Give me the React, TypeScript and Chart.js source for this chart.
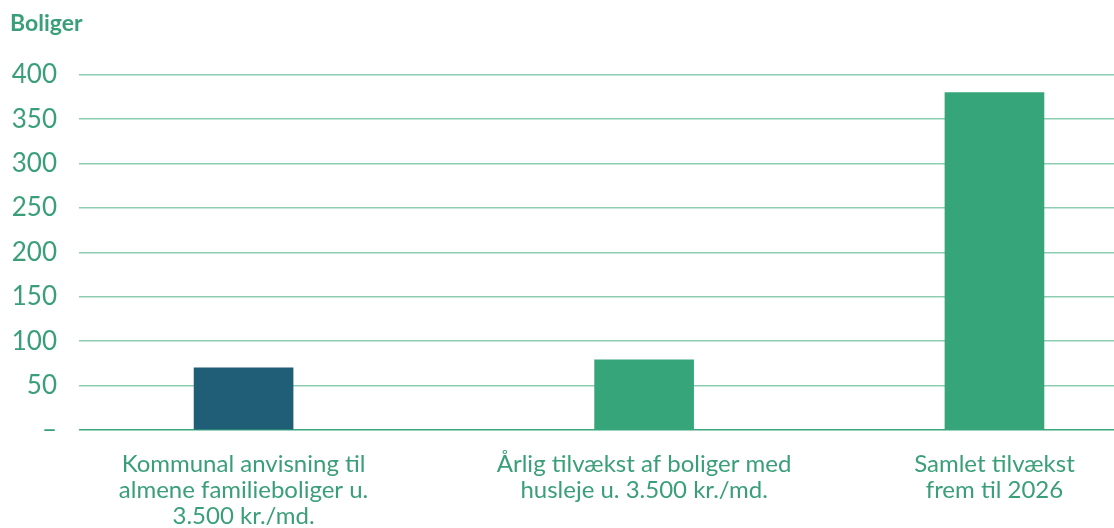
import React, { useEffect, useRef } from "react";
import { Chart, registerables } from "chart.js";

Chart.register(...registerables);

const categories: string[][] = [
  ["Kommunal anvisning til", "almene familieboliger u.", "3.500 kr./md."],
  ["Årlig tilvækst af boliger med", "husleje u. 3.500 kr./md."],
  ["Samlet tilvækst", "frem til 2026"],
];
// position of each bar along the horizontal axis (percent of axis width)
const barPositions: number[] = [15.9, 54.6, 88.45];
const values: number[] = [70, 79, 380];
const barColors: string[] = ["#1F5E76", "#36A57A", "#36A57A"];
const yTicks: number[] = [0, 50, 100, 150, 200, 250, 300, 350, 400];
const title = "Boliger";

const GREEN_TEXT = "#3A9F78";

export default function App() {
  const ref = useRef<HTMLCanvasElement | null>(null);

  useEffect(() => {
    if (!ref.current) return;
    const chart = new Chart(ref.current, {
      type: "bar",
      data: {
        datasets: [
          {
            data: values.map((v, i) => ({ x: barPositions[i], y: v })),
            backgroundColor: barColors,
            borderWidth: 0,
            barThickness: 99,
          },
        ],
      },
      options: {
        animation: false,
        responsive: false,
        layout: { padding: { left: 10, right: 0, top: 0, bottom: 0 } },
        plugins: {
          legend: { display: false },
          tooltip: { enabled: false },
          title: {
            display: true,
            text: title,
            align: "start",
            color: GREEN_TEXT,
            font: { family: "Lato", size: 23, weight: "bold", lineHeight: 1.2 },
            padding: { top: 10.2, bottom: 36.9 },
          },
        },
        scales: {
          x: {
            type: "linear",
            min: 0,
            max: 100,
            offset: false,
            grid: { display: false, drawTicks: false },
            border: { display: false },
            afterBuildTicks: (scale: any) => {
              scale.ticks = barPositions.map((v) => ({ value: v }));
            },
            afterFit: (scale: any) => {
              scale.height = 98;
            },
            ticks: {
              autoSkip: false,
              maxRotation: 0,
              minRotation: 0,
              padding: 21.5,
              color: GREEN_TEXT,
              font: { family: "Lato", size: 24, lineHeight: "26px" },
              callback: (_v: any, i: number) => categories[i],
            },
          },
          y: {
            min: 0,
            max: 400,
            afterBuildTicks: (scale: any) => {
              scale.ticks = yTicks.map((v) => ({ value: v }));
            },
            afterFit: (scale: any) => {
              scale.width = 69;
            },
            border: { display: false },
            grid: {
              drawTicks: false,
              lineWidth: 1.5,
              color: (ctx: any) =>
                ctx.tick && ctx.tick.value === 0 ? "#3AA77C" : "#8CCDB2",
            },
            ticks: {
              padding: 22,
              color: GREEN_TEXT,
              font: { family: "Lato", size: 26 },
              callback: (v: any) => (v === 0 ? "–" : String(v)),
            },
          },
        },
      },
    } as any);
    return () => chart.destroy();
  }, []);

  return (
    <div style={{ position: "fixed", left: 0, top: 0, width: 1114, height: 528, background: "#fff" }}>
      <canvas ref={ref} width={1114} height={528} />
    </div>
  );
}
